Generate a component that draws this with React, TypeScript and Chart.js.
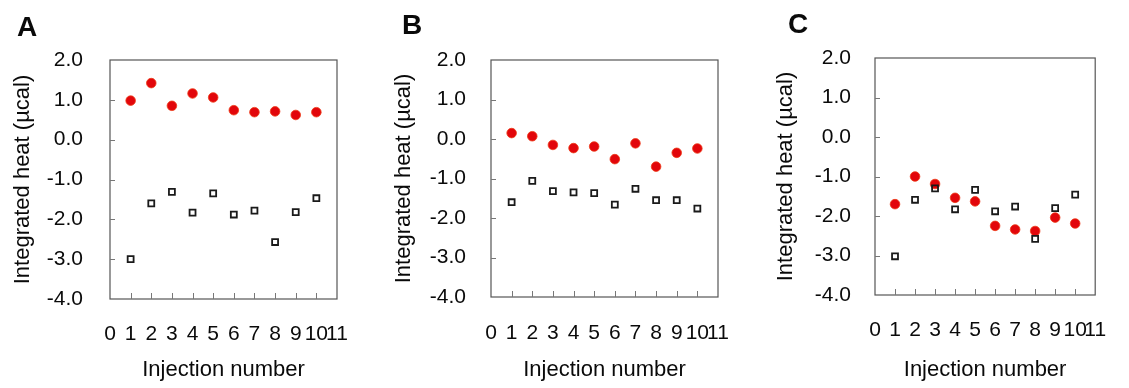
import React, { useEffect, useRef } from "react";
import { Chart, registerables } from "chart.js";

Chart.register(...registerables);

// ---- data ----
const INJECTIONS = [1, 2, 3, 4, 5, 6, 7, 8, 9, 10];
const A_FILLED = [0.98, 1.42, 0.85, 1.16, 1.06, 0.74, 0.69, 0.71, 0.62, 0.69];
const A_OPEN = [-3.0, -1.6, -1.31, -1.83, -1.35, -1.88, -1.78, -2.57, -1.82, -1.47];
const B_FILLED = [0.15, 0.07, -0.15, -0.23, -0.19, -0.51, -0.11, -0.7, -0.35, -0.24];
const B_OPEN = [-1.6, -1.06, -1.32, -1.35, -1.37, -1.66, -1.26, -1.55, -1.55, -1.76];
const C_FILLED = [-1.7, -1.0, -1.19, -1.54, -1.63, -2.25, -2.34, -2.38, -2.04, -2.19];
const C_OPEN = [-3.02, -1.59, -1.3, -1.83, -1.34, -1.88, -1.76, -2.58, -1.8, -1.46];
const PANEL_LETTERS = ["A", "B", "C"];
const X_MIN = 0;
const X_MAX = 11;
const Y_MIN = -4;
const Y_MAX = 2;
const Y_TITLE = "Integrated heat (\u00b5cal)";
const X_TITLE = "Injection number";

// ---- layout (page pixels) ----
const H = 388;
const FONT = "'Liberation Sans', Arial, sans-serif";
const TICK_SIZE = 21;
const TITLE_SIZE = 22;
const PANELS = [
  { letter: PANEL_LETTERS[0], filled: A_FILLED, open: A_OPEN, canvasLeft: 0, width: 380, plotLeft: 110, plotTop: 60, plotRight: 337, plotBottom: 299, labelRight: 82, titleX: 23, xCap: 334.5, letterX: 17, letterY: 13 },
  { letter: PANEL_LETTERS[1], filled: B_FILLED, open: B_OPEN, canvasLeft: 380, width: 380, plotLeft: 491, plotTop: 60, plotRight: 718, plotBottom: 297, labelRight: 465, titleX: 404, xCap: 333.5, letterX: 402, letterY: 11 },
  { letter: PANEL_LETTERS[2], filled: C_FILLED, open: C_OPEN, canvasLeft: 760, width: 369, plotLeft: 875, plotTop: 58, plotRight: 1104, plotBottom: 295, labelRight: 850, titleX: 786, xCap: 330.5, letterX: 788, letterY: 10 },
];

const framePlugin = {
  id: "frame",
  beforeDatasetsDraw(chart: any) {
    const { ctx, chartArea: a, scales } = chart;
    ctx.save();
    ctx.strokeStyle = "#555";
    ctx.lineWidth = 1.2;
    ctx.strokeRect(a.left, a.top, a.right - a.left, a.bottom - a.top);
    ctx.lineWidth = 1;
    ctx.strokeStyle = "#777";
    for (const t of scales.y.ticks) {
      if (t.value <= Y_MIN || t.value >= Y_MAX) continue;
      const y = Math.round(scales.y.getPixelForValue(t.value)) + 0.5;
      ctx.beginPath();
      ctx.moveTo(a.left, y);
      ctx.lineTo(a.left + 5, y);
      ctx.stroke();
    }
    for (const t of scales.x.ticks) {
      if (t.value <= X_MIN || t.value >= X_MAX) continue;
      const x = Math.round(scales.x.getPixelForValue(t.value)) + 0.5;
      ctx.beginPath();
      ctx.moveTo(x, a.bottom);
      ctx.lineTo(x, a.bottom - 6);
      ctx.stroke();
    }
    ctx.restore();
  },
};

function Panel({ p }: { p: (typeof PANELS)[number] }) {
  const ref = useRef<HTMLCanvasElement | null>(null);
  useEffect(() => {
    if (!ref.current) return;
    const lhTick = TICK_SIZE * 1.2;
    const lhTitle = TITLE_SIZE * 1.2;
    const chart = new Chart(ref.current, {
      type: "scatter",
      data: {
        datasets: [
          {
            label: "open",
            data: INJECTIONS.map((x, i) => ({ x, y: p.open[i] })),
            pointStyle: "rect",
            pointRadius: 4.2,
            pointBackgroundColor: "rgba(255,255,255,0)",
            pointBorderColor: "#1a1a1a",
            pointBorderWidth: 1.8,
            order: 0,
          },
          {
            label: "filled",
            data: INJECTIONS.map((x, i) => ({ x, y: p.filled[i] })),
            pointStyle: "circle",
            pointRadius: 4.8,
            pointBackgroundColor: "#e2060b",
            pointBorderColor: "#ee3a16",
            pointBorderWidth: 0.8,
            order: 1,
          },
        ],
      },
      options: {
        animation: false,
        responsive: false,
        events: [],
        layout: {
          padding: {
            left: 0,
            top: p.plotTop,
            right: p.canvasLeft + p.width - p.plotRight,
            bottom: 0,
          },
        },
        plugins: { legend: { display: false }, tooltip: { enabled: false } },
        scales: {
          x: {
            type: "linear",
            min: X_MIN,
            max: X_MAX,
            afterFit: (s: any) => {
              s.height = H - p.plotBottom;
            },
            ticks: {
              stepSize: 1,
              autoSkip: false,
              maxRotation: 0,
              padding: p.xCap - lhTick / 2 - p.plotBottom,
              color: "#0a0a0a",
              font: { family: FONT, size: TICK_SIZE },
              callback: (v: any) => String(v),
            },
            grid: { display: false, drawTicks: false },
            border: { display: false },
            title: {
              display: true,
              text: X_TITLE,
              color: "#0a0a0a",
              font: { family: FONT, size: TITLE_SIZE },
              padding: { top: 0, bottom: 5 },
            },
          },
          y: {
            type: "linear",
            min: Y_MIN,
            max: Y_MAX,
            afterFit: (s: any) => {
              s.width = p.plotLeft - p.canvasLeft;
            },
            ticks: {
              stepSize: 1,
              autoSkip: false,
              padding: p.plotLeft - p.labelRight - 1,
              color: "#0a0a0a",
              font: { family: FONT, size: TICK_SIZE },
              callback: (v: any) => Number(v).toFixed(1),
            },
            grid: { display: false, drawTicks: false },
            border: { display: false },
            title: {
              display: true,
              text: Y_TITLE,
              color: "#0a0a0a",
              font: { family: FONT, size: TITLE_SIZE },
              padding: { top: p.titleX - p.canvasLeft - lhTitle / 2, bottom: 0 },
            },
          },
        },
      },
      plugins: [framePlugin],
    } as any);
    return () => chart.destroy();
  }, [p]);

  return (
    <>
      <canvas
        ref={ref}
        width={p.width}
        height={H}
        style={{ position: "absolute", left: p.canvasLeft, top: 0, width: p.width, height: H }}
      />
      <div
        style={{
          position: "absolute",
          left: p.letterX,
          top: p.letterY,
          font: `bold 28px ${FONT}`,
          lineHeight: "28px",
          color: "#0a0a0a",
        }}
      >
        {p.letter}
      </div>
    </>
  );
}

export default function App() {
  return (
    <div style={{ position: "absolute", left: 0, top: 0, width: 1129, height: H, background: "#fff", overflow: "hidden" }}>
      {PANELS.map((p) => (
        <Panel key={p.letter} p={p} />
      ))}
    </div>
  );
}
